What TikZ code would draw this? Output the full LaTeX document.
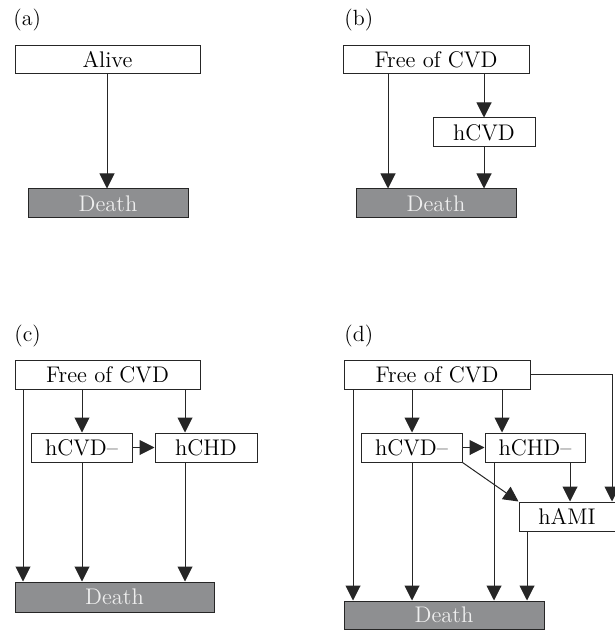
\documentclass[tikz,border=0pt]{standalone}
\usetikzlibrary{arrows.meta}
\definecolor{deathgray}{HTML}{8E8F91}
\definecolor{deathtext}{HTML}{EEEEEE}
\definecolor{linegray}{HTML}{262626}
\begin{document}
\begin{tikzpicture}[x=0.5pt,y=-0.5pt,
  box/.style={draw=linegray,line width=0.5pt,fill=white,inner sep=0pt,minimum height=14.5pt,font=\fontsize{11.3}{13}\selectfont},
  deathbox/.style={box,fill=deathgray,text=deathtext},
  lbl/.style={anchor=west,inner sep=0pt,font=\fontsize{11}{13}\selectfont},
  arr/.style={draw=linegray,line width=0.5pt,-{Triangle[length=7.5pt,width=7.5pt]}}]
\useasboundingbox (0,0) rectangle (614,630);
% (a)
\node[lbl] (la) at (13,20) {(a)};
\node[box,minimum width=92.5pt,minimum height=14pt] (aalive) at (107.5,60) {Alive};
\node[deathbox,minimum width=80pt] (adeath) at (108,203.5) {Death};
\draw[arr] (107,0 |- aalive.south) -- (107,0 |- adeath.north);
% (b)
\node[lbl] (lb) at (344,20) {(b)};
\node[box,minimum width=93pt,minimum height=14pt] (bfree) at (436,60) {Free of CVD};
\node[box,minimum width=51pt] (bcvd) at (484,132.5) {hCVD};
\node[deathbox,minimum width=80pt] (bdeath) at (436,203.5) {Death};
\draw[arr] (388,0 |- bfree.south) -- (388,0 |- bdeath.north);
\draw[arr] (484,0 |- bfree.south) -- (bcvd.north);
\draw[arr] (bcvd.south) -- (484,0 |- bdeath.north);
% (c)
\node[lbl] (lc) at (14,336) {(c)};
\node[box,minimum width=92.5pt] (cfree) at (107.5,374.5) {Free of CVD};
\node[box,minimum width=50.5pt] (ccvd) at (81.5,447.5) {hCVD--};
\node[box,minimum width=51pt] (cchd) at (206,447.5) {hCHD};
\node[deathbox,minimum width=99.5pt,minimum height=15pt] (cdeath) at (114.5,597) {Death};
\draw[arr] (23,0 |- cfree.south) -- (23,0 |- cdeath.north);
\draw[arr] (82,0 |- cfree.south) -- (82,0 |- ccvd.north);
\draw[arr] (185,0 |- cfree.south) -- (185,0 |- cchd.north);
\draw[arr] (ccvd.east) -- (cchd.west);
\draw[arr] (82,0 |- ccvd.south) -- (82,0 |- cdeath.north);
\draw[arr] (185,0 |- cchd.south) -- (185,0 |- cdeath.north);
% (d)
\node[lbl] (ld) at (344,336) {(d)};
\node[box,minimum width=93pt] (dfree) at (437,374.5) {Free of CVD};
\node[box,minimum width=50.5pt] (dcvd) at (411.5,447.5) {hCVD--};
\node[box,minimum width=50pt] (dchd) at (535,447.5) {hCHD--};
\node[box,minimum width=48pt] (dami) at (567,516.5) {hAMI};
\node[deathbox,minimum width=100pt,minimum height=14.25pt] (ddeath) at (444,615.25) {Death};
\draw[arr] (353,0 |- dfree.south) -- (353,0 |- ddeath.north);
\draw[arr] (412,0 |- dfree.south) -- (412,0 |- dcvd.north);
\draw[arr] (502,0 |- dfree.south) -- (502,0 |- dchd.north);
\draw[arr] (dfree.east) -| (612,0 |- dami.north);
\draw[arr] (dcvd.east) -- (dchd.west);
\draw[arr] (dcvd.south east) -- (dami.north west);
\draw[arr] (570,0 |- dchd.south) -- (570,0 |- dami.north);
\draw[arr] (412,0 |- dcvd.south) -- (412,0 |- ddeath.north);
\draw[arr] (494,0 |- dchd.south) -- (494,0 |- ddeath.north);
\draw[arr] (527,0 |- dami.south) -- (527,0 |- ddeath.north);
\end{tikzpicture}
\end{document}
